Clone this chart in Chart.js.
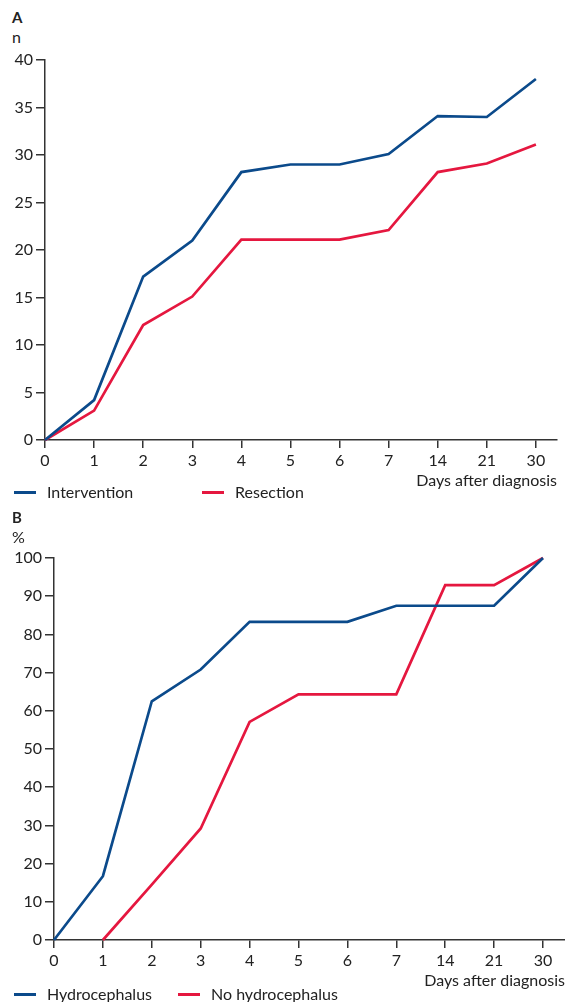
<!DOCTYPE html>
<html>
<head>
<meta charset="utf-8">
<script src="https://cdn.jsdelivr.net/npm/chart.js@4.4.1/dist/chart.umd.min.js"></script>
<style>
  body { margin: 0; background: #fff; font-family: Lato, sans-serif; color: #222; }
  #page { position: relative; width: 565px; height: 1002px; overflow: hidden; }
  .wrap { position: absolute; left: 0; width: 565px; }
  .lbl { position: absolute; font-size: 16px; line-height: 18px; }
  .panel { font-weight: bold; font-size: 15px; }
  .leg { position: absolute; font-size: 16px; line-height: 18px; white-space: nowrap; }
  .leg i { display: inline-block; width: 22px; height: 3px; vertical-align: middle; margin-right: 11px; position: relative; top: -1px; }
</style>
</head>
<body>
<div id="page">
  <div class="lbl panel" style="left:12px; top:8px;">A</div>
  <div class="lbl" style="left:12px; top:28px;">n</div>
  <div class="wrap" style="top:0; height:490px;"><canvas id="chartA"></canvas></div>
  <div class="leg" style="left:14px; top:483px;"><i style="background:#0b4a8b"></i>Intervention</div>
  <div class="leg" style="left:202px; top:483px;"><i style="background:#e5173f"></i>Resection</div>

  <div class="lbl panel" style="left:12px; top:508px;">B</div>
  <div class="lbl" style="left:12px; top:528px;">%</div>
  <div class="wrap" style="top:500px; height:490px;"><canvas id="chartB"></canvas></div>
  <div class="leg" style="left:14px; top:985px;"><i style="background:#0b4a8b"></i>Hydrocephalus</div>
  <div class="leg" style="left:178px; top:985px;"><i style="background:#e5173f"></i>No hydrocephalus</div>
</div>
<script>
const dayLabels = ['0', '1', '2', '3', '4', '5', '6', '7', '14', '21', '30'];

// panel A, n
const intervention = [0, 4.2, 17.2, 21, 28.2, 29, 29, 30.1, 34.1, 34, 38];
const resection = [0, 3.1, 12.1, 15.1, 21.1, 21.1, 21.1, 22.1, 28.2, 29.1, 31.1];
const ticksA = [0, 5, 10, 15, 20, 25, 30, 35, 40];

// panel B, %
const hydrocephalus = [0, 16.7, 62.5, 70.8, 83.3, 83.3, 83.3, 87.5, 87.5, 87.5, 100];
const noHydrocephalus = [null, 0, 14.5, 29.2, 57.1, 64.3, 64.3, 64.3, 92.9, 92.9, 100];
const ticksB = [0, 10, 20, 30, 40, 50, 60, 70, 80, 90, 100];

const BLUE = '#0b4a8b';
const RED = '#e5173f';
const AXIS = '#333';
const FONT = { family: 'Lato, sans-serif', size: 16 };

function toPoints(values) {
    return values.map((v, i) => ({ x: i, y: v }));
}

function makeChart(id, series, yTicks, yMax, xMax, yWidth, topPad, rightPad) {
    const ctx = document.getElementById(id).getContext('2d');
    return new Chart(ctx, {
        type: 'line',
        data: {
            datasets: series.map(s => ({
                label: s.label,
                data: toPoints(s.values),
                borderColor: s.color,
                borderWidth: 2.7,
                pointRadius: 0,
                tension: 0,
                fill: false,
                clip: false
            }))
        },
        options: {
            responsive: true,
            maintainAspectRatio: false,
            animation: false,
            layout: { padding: { top: topPad, right: rightPad, bottom: 0, left: 0 } },
            plugins: { legend: { display: false }, tooltip: { enabled: false } },
            scales: {
                x: {
                    type: 'linear',
                    min: 0,
                    max: xMax,
                    border: { color: AXIS, width: 1.5 },
                    grid: { drawOnChartArea: false, drawTicks: true, tickLength: 8, color: AXIS, lineWidth: 1.5 },
                    ticks: {
                        color: '#222',
                        font: FONT,
                        padding: 3,
                        maxRotation: 0,
                        callback: value => dayLabels[value]
                    },
                    afterBuildTicks: scale => { scale.ticks = dayLabels.map((_, i) => ({ value: i })); },
                    afterFit: scale => { scale.height = 50; },
                    title: {
                        display: true,
                        text: 'Days after diagnosis',
                        align: 'end',
                        color: '#222',
                        font: FONT,
                        padding: 0
                    }
                },
                y: {
                    min: 0,
                    max: yMax,
                    border: { color: AXIS, width: 1.5 },
                    grid: { drawOnChartArea: false, drawTicks: true, tickLength: 9, color: AXIS, lineWidth: 1.5 },
                    ticks: { color: '#222', font: FONT, padding: 3 },
                    afterBuildTicks: scale => { scale.ticks = yTicks.map(v => ({ value: v })); },
                    afterFit: scale => { scale.width = yWidth; }
                }
            }
        }
    });
}

makeChart('chartA', [
    { label: 'Intervention', values: intervention, color: BLUE },
    { label: 'Resection', values: resection, color: RED }
], ticksA, 40, 10.43, 45, 60, 8);

makeChart('chartB', [
    { label: 'Hydrocephalus', values: hydrocephalus, color: BLUE },
    { label: 'No hydrocephalus', values: noHydrocephalus, color: RED }
], ticksB, 100, 10.45, 54, 58, 0);
</script>
</body>
</html>
